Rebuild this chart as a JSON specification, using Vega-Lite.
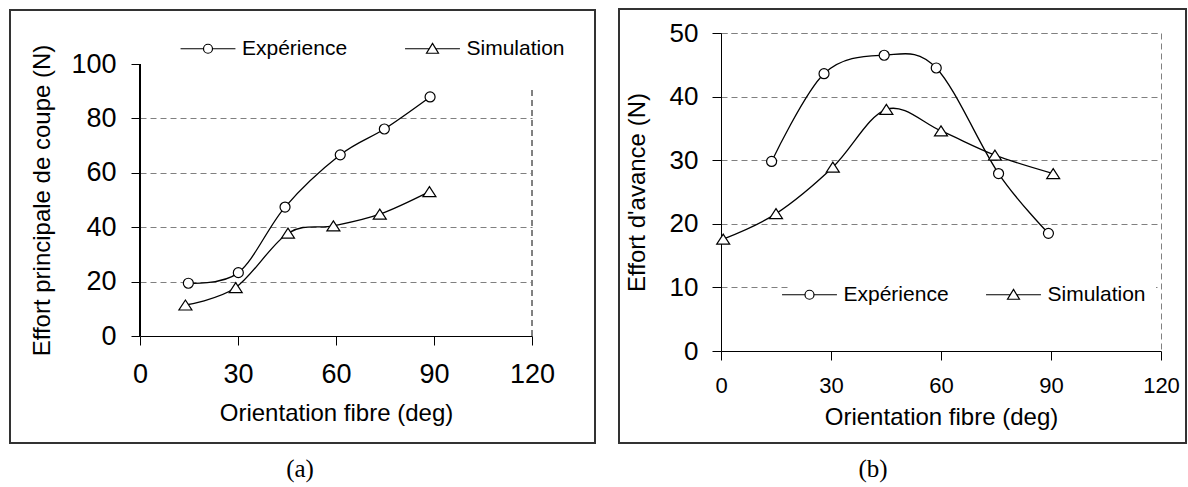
{
  "$schema": "https://vega.github.io/schema/vega-lite/v6.json",
  "padding": {"left": 9, "top": 7, "right": 0, "bottom": 0},
  "background": "white",
  "spacing": 21,
  "resolve": {"scale": {"shape": "independent"}, "legend": {"shape": "independent"}},
  "config": {
    "font": "Liberation Sans",
    "view": {"stroke": null},
    "axis": {
      "domainColor": "black", "domainWidth": 1, "tickColor": "black", "tickWidth": 1, "tickSize": 9,
      "labelColor": "black", "titleColor": "black", "labelFont": "Liberation Sans", "titleFont": "Liberation Sans",
      "titleFontWeight": "normal", "labelFlush": false, "labelOverlap": false,
      "gridColor": "#808080", "gridDash": [6, 4], "gridWidth": 1
    },
    "legend": {
      "labelFont": "Liberation Sans", "labelFontSize": 21, "labelColor": "black",
      "symbolSize": 81, "symbolFillColor": "white", "symbolStrokeColor": "black", "symbolStrokeWidth": 1.2, "symbolOpacity": 1
    },
    "title": {"font": "Liberation Serif", "fontWeight": "normal", "color": "black"}
  },
  "datasets": {
    "a": [
      {"x": 14.8, "y": 19.4, "series": "Expérience"},
      {"x": 30.1, "y": 23.3, "series": "Expérience"},
      {"x": 44.4, "y": 47.4, "series": "Expérience"},
      {"x": 61.3, "y": 66.6, "series": "Expérience"},
      {"x": 74.8, "y": 76.1, "series": "Expérience"},
      {"x": 88.8, "y": 87.9, "series": "Expérience"},
      {"x": 13.9, "y": 11.4, "series": "Simulation"},
      {"x": 29.3, "y": 17.8, "series": "Simulation"},
      {"x": 45.3, "y": 37.8, "series": "Simulation"},
      {"x": 59.2, "y": 40.5, "series": "Simulation"},
      {"x": 73.4, "y": 44.8, "series": "Simulation"},
      {"x": 88.6, "y": 53.1, "series": "Simulation"}
    ],
    "b": [
      {"x": 13.8, "y": 29.8, "series": "Expérience"},
      {"x": 28.1, "y": 43.6, "series": "Expérience"},
      {"x": 44.5, "y": 46.5, "series": "Expérience"},
      {"x": 58.7, "y": 44.5, "series": "Expérience"},
      {"x": 75.7, "y": 27.9, "series": "Expérience"},
      {"x": 89.3, "y": 18.5, "series": "Expérience"},
      {"x": 0.6, "y": 17.6, "series": "Simulation"},
      {"x": 15.0, "y": 21.6, "series": "Simulation"},
      {"x": 30.5, "y": 28.9, "series": "Simulation"},
      {"x": 45.1, "y": 38.0, "series": "Simulation"},
      {"x": 60.0, "y": 34.6, "series": "Simulation"},
      {"x": 74.7, "y": 30.8, "series": "Simulation"},
      {"x": 90.6, "y": 27.9, "series": "Simulation"}
    ]
  },
  "hconcat": [
    {
      "width": 392,
      "height": 303,
      "data": {"name": "a"},
      "title": {"text": "(a)", "orient": "bottom", "fontSize": 25, "anchor": "middle", "frame": "group", "dx": -36, "offset": 13},
      "resolve": {"scale": {"shape": "independent"}, "legend": {"shape": "independent"}},
      "layer": [
        {
          "mark": {"type": "rect", "filled": false, "stroke": "#333333", "strokeWidth": 1.5},
          "encoding": {
            "x": {"datum": -39.87, "type": "quantitative", "scale": {"domain": [0, 120], "nice": false, "zero": false}},
            "x2": {"datum": 139.28},
            "y": {"datum": 119.94, "type": "quantitative", "scale": {"domain": [0, 111.4], "nice": false, "zero": false}},
            "y2": {"datum": -39.34}
          }
        },
        {
          "mark": {"type": "rule", "color": "#808080", "strokeDash": [6, 4], "strokeWidth": 1},
          "encoding": {
            "x": {"datum": 120, "type": "quantitative", "scale": {"domain": [0, 120], "nice": false, "zero": false}},
            "y": {"datum": 0, "type": "quantitative", "scale": {"domain": [0, 111.4], "nice": false, "zero": false}},
            "y2": {"datum": 90.4}
          }
        },
        {
          "mark": {"type": "rule", "color": "black", "strokeWidth": 1},
          "encoding": {
            "x": {"datum": 0, "type": "quantitative", "scale": {"domain": [0, 120], "nice": false, "zero": false}},
            "y": {"datum": 0, "type": "quantitative", "scale": {"domain": [0, 111.4], "nice": false, "zero": false}},
            "y2": {"datum": 100}
          }
        },
        {
          "mark": {"type": "line", "color": "black", "strokeWidth": 1.3, "interpolate": "cardinal"},
          "encoding": {
            "x": {"field": "x", "type": "quantitative", "scale": {"domain": [0, 120], "nice": false, "zero": false},
              "axis": {"values": [0, 30, 60, 90, 120], "title": "Orientation fibre (deg)", "titleFontSize": 24, "titlePadding": 14, "labelFontSize": 27, "labelPadding": 16, "grid": false}},
            "y": {"field": "y", "type": "quantitative", "scale": {"domain": [0, 111.4], "nice": false, "zero": false},
              "axis": {"values": [0, 20, 40, 60, 80, 100], "title": "Effort principale de coupe (N)", "titleFontSize": 24, "titleX": -86, "titleY": 167, "labelFontSize": 27, "labelPadding": 15, "domain": false,
                "grid": true, "gridOpacity": {"condition": {"test": "datum.value === 0 || datum.value === 100", "value": 0}, "value": 1}}},
            "detail": {"field": "series"}
          }
        },
        {
          "mark": {"type": "point", "filled": true, "fill": "white", "stroke": "black", "strokeWidth": 1.2, "opacity": 1, "size": 100},
          "encoding": {
            "x": {"field": "x", "type": "quantitative", "scale": {"domain": [0, 120], "nice": false, "zero": false}},
            "y": {"field": "y", "type": "quantitative", "scale": {"domain": [0, 111.4], "nice": false, "zero": false}},
            "shape": {"field": "series", "type": "nominal", "scale": {"domain": ["Expérience", "Simulation"], "range": ["circle", "M0,-1L1.3,1L-1.3,1Z"]}, "legend": null}
          }
        },
        {
          "transform": [{"filter": "false"}],
          "mark": {"type": "point", "filled": false, "stroke": "black", "strokeWidth": 1.2, "opacity": 1},
          "encoding": {
            "shape": {"field": "series", "type": "nominal",
              "scale": {"domain": ["Expérience", "Simulation"], "range": ["M-6.1,0L-1,0M1,0L6.1,0M-1,0A1,1,0,1,1,1,0A1,1,0,1,1,-1,0", "M-6.1,0L-0.73,0M0.73,0L6.1,0M0,-1.2L1.33,1L-1.33,1Z"]},
              "legend": {"title": null, "orient": "none", "direction": "horizontal", "legendX": 57.5, "legendY": 5, "labelOffset": 23.5, "columnPadding": 54.5,
                "encode": {"symbols": {"update": {"fill": {"value": "white"}, "stroke": {"value": "black"}, "strokeWidth": {"value": 1.2}, "opacity": {"value": 1}}}}}}
          }
        }
      ]
    },
    {
      "width": 440,
      "height": 318,
      "data": {"name": "b"},
      "view": {"stroke": "#808080", "strokeDash": [6, 4], "strokeWidth": 1},
      "title": {"text": "(b)", "orient": "bottom", "fontSize": 25, "anchor": "middle", "frame": "group", "dx": -68, "offset": 13},
      "resolve": {"scale": {"shape": "independent"}, "legend": {"shape": "independent"}},
      "layer": [
        {
          "mark": {"type": "rect", "filled": false, "stroke": "#333333", "strokeWidth": 1.5},
          "encoding": {
            "x": {"datum": -27.82, "type": "quantitative", "scale": {"domain": [0, 120], "nice": false, "zero": false}},
            "x2": {"datum": 126.8},
            "y": {"datum": 53.77, "type": "quantitative", "scale": {"domain": [0, 50], "nice": false, "zero": false}},
            "y2": {"datum": -14.47}
          }
        },
        {
          "mark": {"type": "line", "color": "black", "strokeWidth": 1.3, "interpolate": "cardinal"},
          "encoding": {
            "x": {"field": "x", "type": "quantitative", "scale": {"domain": [0, 120], "nice": false, "zero": false},
              "axis": {"values": [0, 30, 60, 90, 120], "title": "Orientation fibre (deg)", "titleFontSize": 24, "titlePadding": 9, "labelFontSize": 22, "labelPadding": 15, "grid": false}},
            "y": {"field": "y", "type": "quantitative", "scale": {"domain": [0, 50], "nice": false, "zero": false},
              "axis": {"values": [0, 10, 20, 30, 40, 50], "title": "Effort d'avance (N)", "titleFontSize": 24, "titlePadding": 20, "labelFontSize": 26, "labelPadding": 14, "grid": true}},
            "detail": {"field": "series"}
          }
        },
        {
          "mark": {"type": "point", "filled": true, "fill": "white", "stroke": "black", "strokeWidth": 1.2, "opacity": 1, "size": 100},
          "encoding": {
            "x": {"field": "x", "type": "quantitative", "scale": {"domain": [0, 120], "nice": false, "zero": false}},
            "y": {"field": "y", "type": "quantitative", "scale": {"domain": [0, 50], "nice": false, "zero": false}},
            "shape": {"field": "series", "type": "nominal", "scale": {"domain": ["Expérience", "Simulation"], "range": ["circle", "M0,-1L1.3,1L-1.3,1Z"]}, "legend": null}
          }
        },
        {
          "transform": [{"filter": "false"}],
          "mark": {"type": "point", "filled": false, "stroke": "black", "strokeWidth": 1.2, "opacity": 1},
          "encoding": {
            "shape": {"field": "series", "type": "nominal",
              "scale": {"domain": ["Expérience", "Simulation"], "range": ["M-6.1,0L-1,0M1,0L6.1,0M-1,0A1,1,0,1,1,1,0A1,1,0,1,1,-1,0", "M-6.1,0L-0.73,0M0.73,0L6.1,0M0,-1.2L1.33,1L-1.33,1Z"]},
              "legend": {"title": null, "orient": "none", "direction": "horizontal", "legendX": 68, "legendY": 241, "fillColor": "white", "padding": 10, "labelOffset": 23.5, "columnPadding": 34,
                "encode": {"symbols": {"update": {"fill": {"value": "white"}, "stroke": {"value": "black"}, "strokeWidth": {"value": 1.2}, "opacity": {"value": 1}}}}}}
          }
        }
      ]
    }
  ]
}
